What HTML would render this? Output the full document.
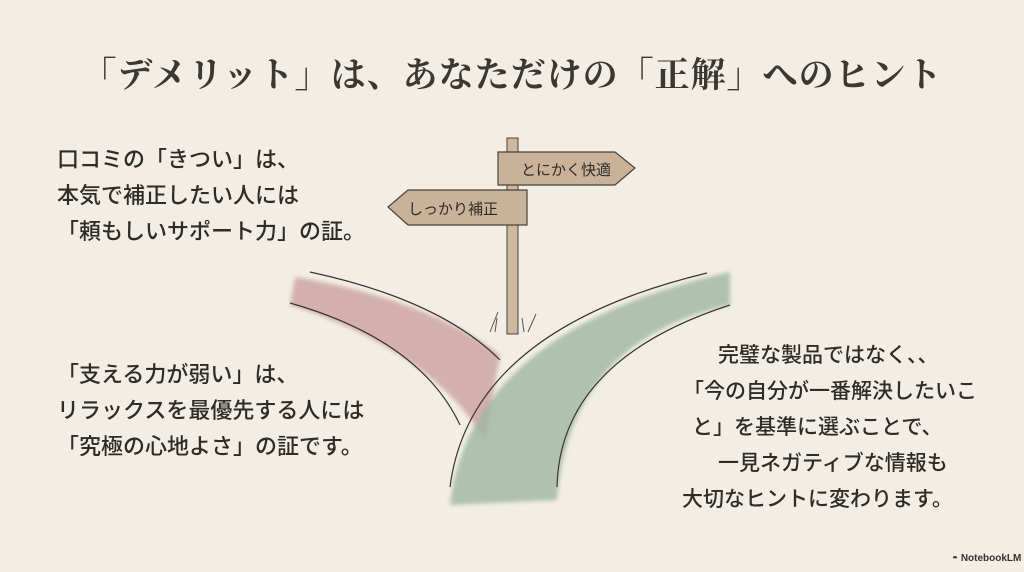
<!DOCTYPE html>
<html><head><meta charset="utf-8"><style>
body{margin:0;width:1024px;height:572px;background:#f2eee6;overflow:hidden;position:relative;font-family:"Liberation Sans","Noto Sans CJK JP",sans-serif;color:#2e2b28}
.t{position:absolute;font-size:22px;font-weight:500;white-space:nowrap;line-height:36px}
.r{font-size:21px}
h1{position:absolute;top:48px;left:0;width:1024px;text-align:center;margin:0;font-family:"Liberation Serif","Noto Serif CJK SC",serif;font-weight:700;font-size:35px;color:#3b3733;letter-spacing:1px}
</style></head><body>
<svg width="1024" height="572" style="position:absolute;left:0;top:0">
<defs><filter id="b"><feGaussianBlur stdDeviation="2"/></filter></defs>
<path d="M295,277 Q430,300 500,355 L485,440 Q430,350 290,305 Z" fill="#c99c98" opacity=".75" filter="url(#b)"/>
<path d="M310,272 Q440,300 500,360" stroke="#3a3531" stroke-width="1.2" fill="none"/>
<path d="M290,303 Q420,340 460,425" stroke="#3a3531" stroke-width="1.2" fill="none"/>
<path d="M450,505 Q470,330 730,272 L730,305 Q570,340 557,500 Z" fill="#9fb6a2" opacity=".8" filter="url(#b)"/>
<path d="M450,487 Q470,330 707,273" stroke="#3a3531" stroke-width="1.2" fill="none"/>
<path d="M557,487 Q560,360 730,305" stroke="#3a3531" stroke-width="1.2" fill="none"/>
<rect x="507" y="138" width="11" height="196" fill="#cdb8a0" stroke="#4a423a" stroke-width="1"/>
<path d="M490,332 l8,-20 M495,332 l2,-14 M528,332 l8,-18 M524,332 l-2,-14" stroke="#555" stroke-width="1"/>
<path d="M498,152 L615,152 L635,168 L615,185 L498,185 Z" fill="#c9b299" stroke="#4a423a" stroke-width="1.2"/>
<path d="M527,190 L408,190 L388,207 L408,225 L527,225 Z" fill="#c9b299" stroke="#4a423a" stroke-width="1.2"/>
<text x="521" y="175" font-size="15" fill="#2e2b28" font-family="Liberation Sans,Noto Sans CJK JP,sans-serif">とにかく快適</text>
<text x="408" y="214" font-size="15" fill="#2e2b28" font-family="Liberation Sans,Noto Sans CJK JP,sans-serif">しっかり補正</text>
</svg>
<h1>「デメリット」は、あなただけの「正解」へのヒント</h1>
<div class="t" style="left:57px;top:142px">口コミの「きつい」は、<br>本気で補正したい人には<br>「頼もしいサポート力」の証。</div>
<div class="t" style="left:57px;top:357px">「支える力が弱い」は、<br>リラックスを最優先する人には<br>「究極の心地よさ」の証です。</div>
<div class="t r" style="left:718px;top:338px">完璧な製品ではなく、、</div>
<div class="t r" style="left:683px;top:374px">「今の自分が一番解決したいこ</div>
<div class="t r" style="left:692px;top:410px">と」を基準に選ぶことで、</div>
<div class="t r" style="left:718px;top:446px">一見ネガティブな情報も</div>
<div class="t r" style="left:682px;top:482px">大切なヒントに変わります。</div>
<div style="position:absolute;left:952px;top:553px;font-size:10px;font-weight:700;color:#333;white-space:nowrap;line-height:12px">◓ NotebookLM</div>
</body></html>
